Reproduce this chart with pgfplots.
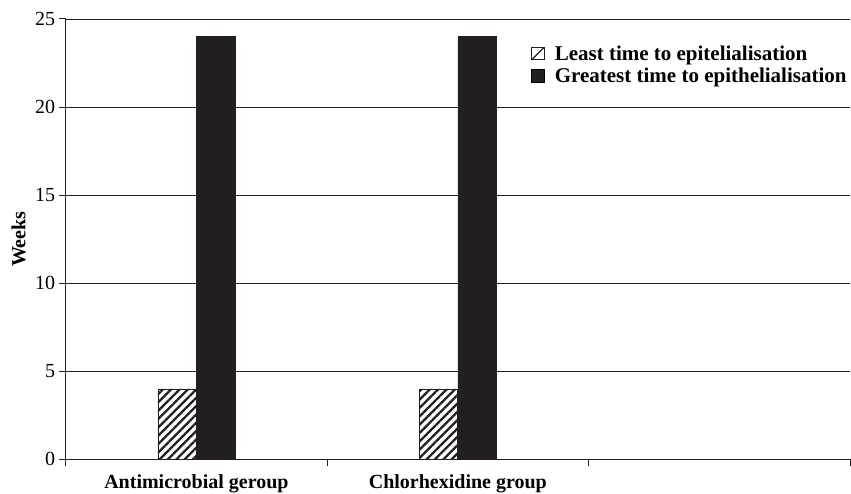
\documentclass[border=0pt]{standalone}
\usepackage{fontspec}
\setmainfont{Liberation Serif}
\usepackage{pgfplots}
\pgfplotsset{compat=1.18}
\usetikzlibrary{patterns.meta}
\definecolor{ink}{HTML}{231F20}
\newcommand{\chartfont}{\fontsize{20}{23}\selectfont}
\newcommand{\legendfont}{\fontsize{21}{24}\selectfont}

\begin{document}
\begin{tikzpicture}
\begin{axis}[
  scale only axis, width=784.5pt, height=440.5pt,
  xmin=-0.5, xmax=2.5, ymin=0, ymax=25,
  axis lines*=left, axis line style={ink, line width=1pt, -},
  tick align=outside, major tick length=7pt,
  tick style={ink, line width=1pt},
  xtick={-0.5,0.5,1.5,2.5}, xticklabels={},
  extra x ticks={0,1},
  extra x tick labels={Antimicrobial geroup, Chlorhexidine group},
  extra x tick style={major tick length=0pt},
  xticklabel style={font=\chartfont\bfseries, yshift=-11.5pt},
  ytick={0,5,...,25},
  yticklabel style={font=\chartfont, /pgf/number format/assume math mode=true},
  ymajorgrids, grid style={ink, line width=0.9pt},
  ylabel={Weeks},
  ylabel style={font=\chartfont\bfseries, at={(axis description cs:-0.06,0.5)}, anchor=center},
  ybar, bar width=38.5pt,
  legend style={draw=none, fill=none, at={(rel axis cs:0.593,0.943)}, anchor=north west,
    font=\legendfont\bfseries, row sep=2pt, inner sep=0pt},
  legend cell align=left,
]
\addplot[forget plot, bar shift=-19.25pt, draw=ink, line width=0.8pt,
  pattern={Lines[angle=45, distance=5.9pt, line width=2.3pt]}, pattern color=ink]
  coordinates {(0,4) (1,4)};
\addplot[forget plot, bar shift=19.25pt, draw=ink, fill=ink]
  coordinates {(0,24) (1,24)};
\addlegendimage{legend image code/.code={
  \path[draw=ink, fill=white, line width=1pt] (0pt,-5.5pt) rectangle (12.5pt,7pt);
  \path[draw=ink, line width=1.3pt] (0pt,-5.5pt) -- (12.5pt,7pt);
  \path (21pt,0pt);}}
\addlegendentry{Least time to epitelialisation}
\addlegendimage{legend image code/.code={
  \path[fill=ink] (0pt,-5.5pt) rectangle (13pt,7.5pt);
  \path (21pt,0pt);}}
\addlegendentry{Greatest time to epithelialisation}
\end{axis}
\pgfresetboundingbox
\path[use as bounding box] (-65.7pt,-34.5pt) rectangle (785.5pt,459.5pt);
\end{tikzpicture}
\end{document}
